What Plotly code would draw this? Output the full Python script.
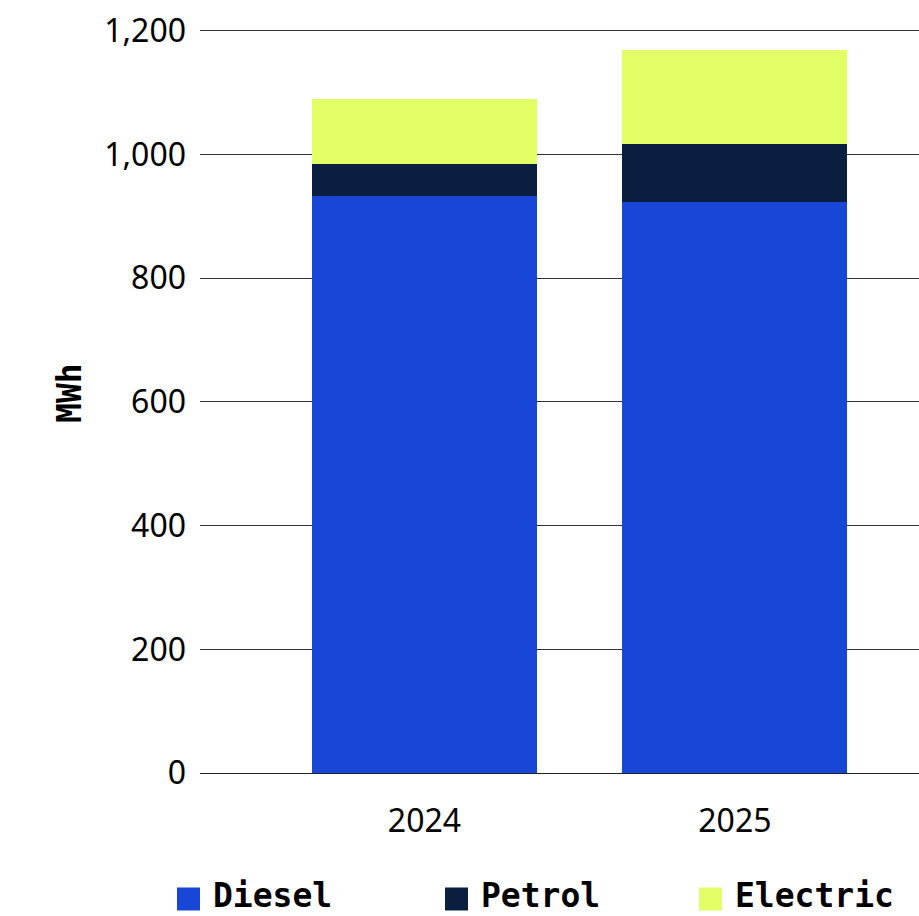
import plotly.graph_objects as go

# Energy use by fuel type, stacked per year
years = ["2024", "2025"]
diesel = [933, 923]
petrol = [51, 94]
electric = [106, 152]

series_names = ["Diesel", "Petrol", "Electric"]
series_values = [diesel, petrol, electric]
series_colors = ["#1846D6", "#0A1E3F", "#E2FF66"]

y_ticks = [0, 200, 400, 600, 800, 1000, 1200]

fig = go.Figure()
for name, vals, col in zip(series_names, series_values, series_colors):
    fig.add_trace(go.Bar(
        x=[0, 1], y=vals, name=name, marker_color=col,
        marker_line_width=0, width=0.725, showlegend=False,
    ))

tick_font = dict(family="Noto Sans", size=32, color="#000000")
mono_bold = dict(family="DejaVu Sans Mono", size=33, color="#000000", weight="bold")

fig.update_layout(
    width=919, height=916,
    margin=dict(l=200, r=0, t=29, b=143),
    barmode="stack",
    plot_bgcolor="white", paper_bgcolor="white",
    xaxis=dict(
        range=[-0.723, 1.593], tickvals=[0, 1], ticktext=years,
        showgrid=False, zeroline=False, showline=False,
        ticks="", ticklabelstandoff=26, tickfont=tick_font,
    ),
    yaxis=dict(
        range=[0, 1203], tickvals=y_ticks, tickformat=",d",
        showgrid=True, gridcolor="#333333", gridwidth=1,
        zeroline=True, zerolinecolor="#222222", zerolinewidth=1,
        showline=False, ticks="", ticklabelstandoff=13, tickfont=tick_font,
    ),
)

# Y axis title
fig.add_annotation(
    text="MWh", textangle=-90, xref="paper", yref="paper",
    x=-0.1808, y=0.5108, xanchor="center", yanchor="middle",
    showarrow=False, font=mono_bold,
)

# Legend drawn as colored squares with labels below the plot
legend_x = [177, 445, 699]  # left edge of each swatch, pixels from page left
plot_left, plot_w = 200, 719
plot_bottom, plot_h = 773, 744
sw = 23
row_center = 899
for name, col, lx in zip(series_names, series_colors, legend_x):
    x0 = (lx - plot_left) / plot_w
    x1 = (lx + sw - plot_left) / plot_w
    y0 = (plot_bottom - (row_center + sw / 2)) / plot_h
    y1 = (plot_bottom - (row_center - sw / 2)) / plot_h
    fig.add_shape(type="rect", xref="paper", yref="paper",
                  x0=x0, x1=x1, y0=y0, y1=y1,
                  fillcolor=col, line_width=0)
    fig.add_annotation(
        text=name, xref="paper", yref="paper",
        x=(lx + sw + 12 - plot_left) / plot_w,
        y=(plot_bottom - 916) / plot_h,
        xanchor="left", yanchor="bottom", showarrow=False,
        font=mono_bold, borderpad=0,
    )

fig.write_html("out.html")
